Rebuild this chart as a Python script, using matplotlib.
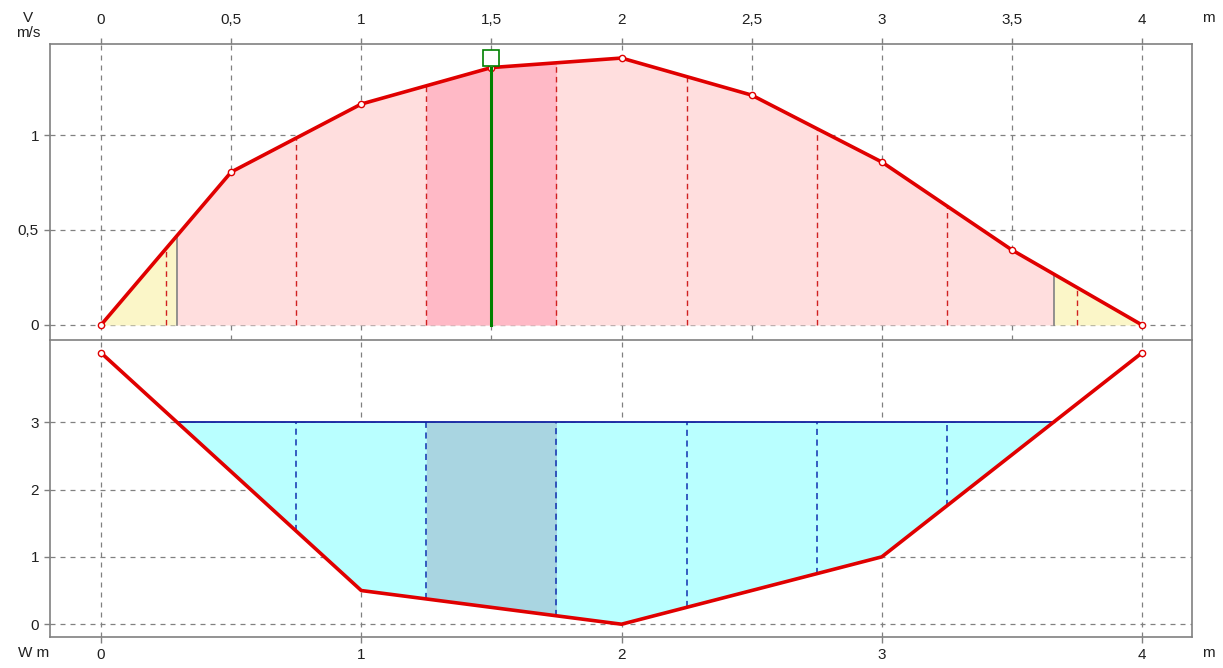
import numpy as np
import matplotlib
matplotlib.use("Agg")
import matplotlib.pyplot as plt

# ---- data ----
x_vel = [0, 0.5, 1.0, 1.5, 2.0, 2.5, 3.0, 3.5, 4.0]
v_vel = [0.0, 0.805, 1.163, 1.355, 1.405, 1.21, 0.858, 0.395, 0.0]
x_bed = [0, 1, 2, 3, 4]
w_bed = [4.03, 0.5, 0.0, 1.0, 4.03]
water_level = 3.0
partitions = [0.25, 0.75, 1.25, 1.75, 2.25, 2.75, 3.25, 3.75]
selected = (1.25, 1.75)
cursor_x = 1.5
top_xticks = [0, 0.5, 1, 1.5, 2, 2.5, 3, 3.5, 4]
top_xlabels = ["0", "0,5", "1", "1,5", "2", "2,5", "3", "3,5", "4"]
top_yticks = [0, 0.5, 1]
top_ylabels = ["0", "0,5", "1"]
bot_xticks = [0, 1, 2, 3, 4]
bot_yticks = [0, 1, 2, 3]

plt.rcParams['font.family'] = ['Liberation Sans', 'DejaVu Sans']

W, H = 1223, 668
fig = plt.figure(figsize=(W / 100, H / 100), dpi=100)

def fx(px):
    return px / W

def fy(py):
    return 1 - py / H

left, right = 50, 1192
ax1 = fig.add_axes([fx(left), fy(340), fx(right) - fx(left), fy(44) - fy(340)])
ax2 = fig.add_axes([fx(left), fy(637), fx(right) - fx(left), fy(340) - fy(637)])

frame_col = "#808080"
grid_col = "#808080"
red = "#e00000"
txt_col = "#202020"
fs = 11

xlim = (-0.196, 4.192)

# wet edges (crossings of water level with bed)
def crossing(x0, y0, x1, y1, level):
    return x0 + (level - y0) * (x1 - x0) / (y1 - y0)

xl = crossing(x_bed[0], w_bed[0], x_bed[1], w_bed[1], water_level)
xr = crossing(x_bed[3], w_bed[3], x_bed[4], w_bed[4], water_level)

xs = np.linspace(0, 4, 2001)
vs = np.interp(xs, x_vel, v_vel)
ws = np.interp(xs, x_bed, w_bed)

# ---------- top panel ----------
ax1.set_xlim(*xlim)
ax1.set_ylim(-0.079, 1.479)
for gx in top_xticks:
    ax1.axvline(gx, color=grid_col, ls=(0, (4, 4)), lw=0.9, zorder=1)
for gy in top_yticks:
    ax1.axhline(gy, color=grid_col, ls=(0, (4, 4)), lw=0.9, zorder=1)

m = (xs <= xl)
ax1.fill_between(xs[m], 0, vs[m], color="#fbf6c8", lw=0, zorder=2)
m = (xs >= xr)
ax1.fill_between(xs[m], 0, vs[m], color="#fbf6c8", lw=0, zorder=2)
m = (xs >= xl) & (xs <= xr)
ax1.fill_between(xs[m], 0, vs[m], color="#ffdede", lw=0, zorder=2)
m = (xs >= selected[0]) & (xs <= selected[1])
ax1.fill_between(xs[m], 0, vs[m], color="#ffb9c6", lw=0, zorder=2)

for p in partitions:
    ax1.plot([p, p], [0, np.interp(p, x_vel, v_vel)], color="#d02020",
             ls=(0, (4, 3)), lw=1.0, zorder=3)
for e in (xl, xr):
    ax1.plot([e, e], [0, np.interp(e, x_vel, v_vel)], color="#808080", lw=1.2, zorder=3)

ax1.plot(x_vel, v_vel, color=red, lw=2.6, zorder=4,
         marker='o', ms=4.5, mfc='white', mec=red, mew=1.0)
cv = np.interp(cursor_x, x_vel, v_vel)
ax1.plot([cursor_x, cursor_x], [0, cv], color="#008000", lw=2.2, zorder=5)
ax1.plot([cursor_x], [cv + 0.05], marker='s', ms=11, mfc='white', mec="#008000",
         mew=1.2, zorder=6)

ax1.xaxis.tick_top()
ax1.set_xticks(top_xticks)
ax1.set_xticklabels(top_xlabels)
ax1.set_yticks(top_yticks)
ax1.set_yticklabels(top_ylabels)
ax1.spines['bottom'].set_visible(False)

# ---------- bottom panel ----------
ax2.set_xlim(*xlim)
ax2.set_ylim(-0.19, 4.22)
for gx in bot_xticks:
    ax2.axvline(gx, color=grid_col, ls=(0, (4, 4)), lw=0.9, zorder=1)
for gy in bot_yticks:
    ax2.axhline(gy, color=grid_col, ls=(0, (4, 4)), lw=0.9, zorder=1)

m = (xs >= xl) & (xs <= xr)
ax2.fill_between(xs[m], ws[m], water_level, color="#b9ffff", lw=0, zorder=2)
m = (xs >= selected[0]) & (xs <= selected[1])
ax2.fill_between(xs[m], ws[m], water_level, color="#a9d5e1", lw=0, zorder=2)
for p in partitions:
    if xl < p < xr:
        ax2.plot([p, p], [np.interp(p, x_bed, w_bed), water_level], color="#1030b0",
                 ls=(0, (4, 3)), lw=1.1, zorder=3)
ax2.plot([xl, xr], [water_level, water_level], color="#1020a0", lw=1.3, zorder=3)
ax2.plot(x_bed, w_bed, color=red, lw=2.6, zorder=4)
ax2.plot([x_bed[0], x_bed[-1]], [w_bed[0], w_bed[-1]], ls='none',
         marker='o', ms=4.5, mfc='white', mec=red, mew=1.0, zorder=5)
ax2.set_xticks(bot_xticks)
ax2.set_xticklabels([str(t) for t in bot_xticks])
ax2.set_yticks(bot_yticks)
ax2.set_yticklabels([str(t) for t in bot_yticks])

for ax in (ax1, ax2):
    for s in ax.spines.values():
        s.set_color(frame_col)
        s.set_linewidth(1.2)
    ax.tick_params(direction='out', length=4, width=1, color=frame_col,
                   labelsize=fs, labelcolor=txt_col, pad=4)
ax1.tick_params(axis='x', pad=8)

# unit labels
fig.text(fx(28), fy(18), "V", ha='center', va='center', fontsize=fs, color=txt_col)
fig.text(fx(28), fy(33), "m/s", ha='center', va='center', fontsize=fs, color=txt_col)
fig.text(fx(1208), fy(18), "m", ha='center', va='center', fontsize=fs, color=txt_col)
fig.text(fx(34), fy(653), "W m", ha='center', va='center', fontsize=fs, color=txt_col)
fig.text(fx(1208), fy(653), "m", ha='center', va='center', fontsize=fs, color=txt_col)

fig.savefig("out.png", dpi=100, facecolor="white")
